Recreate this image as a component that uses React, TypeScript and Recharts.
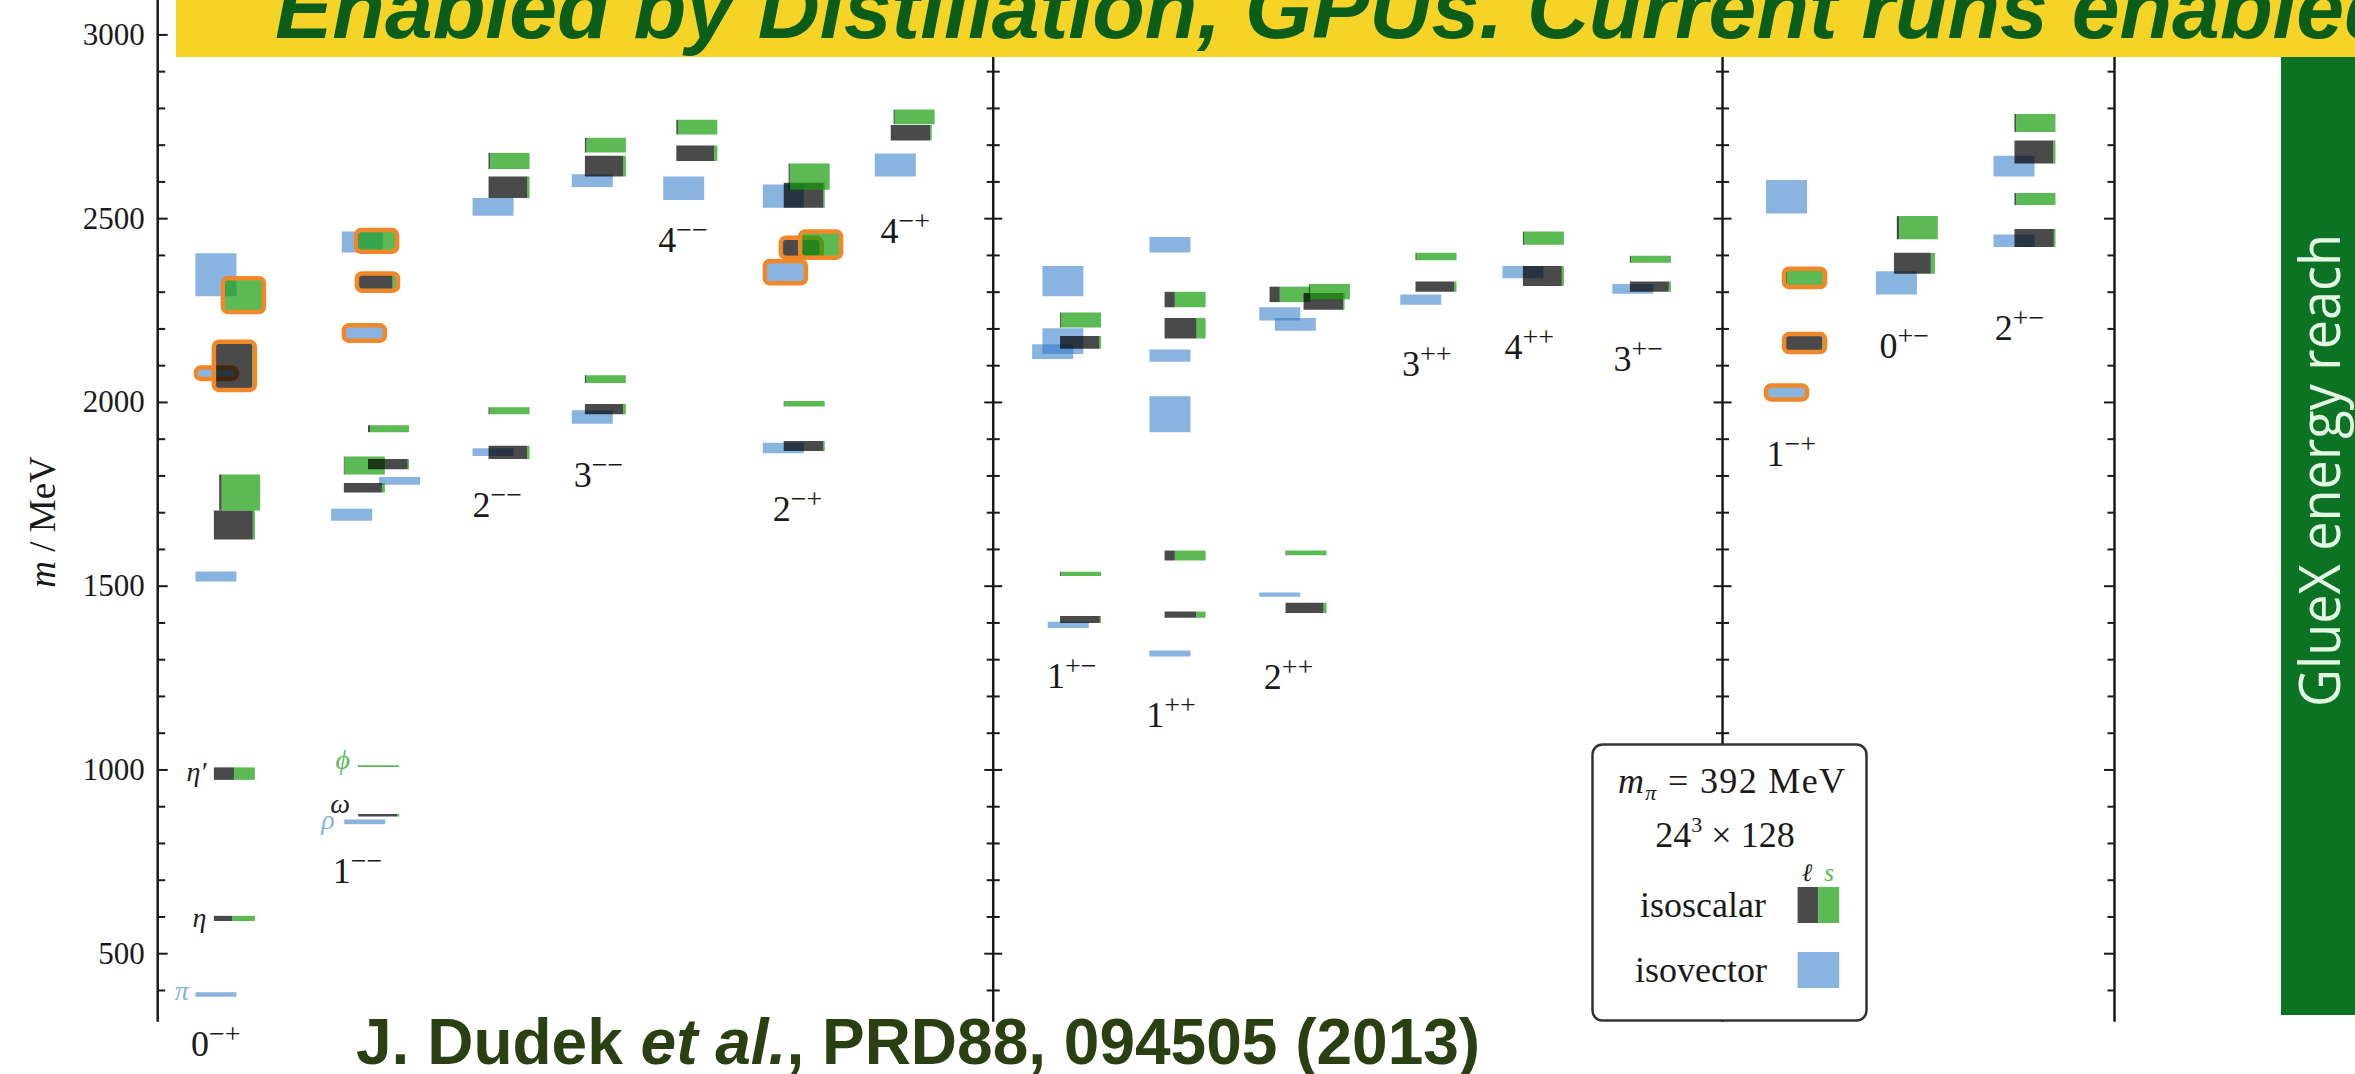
import React from "react";
import { ComposedChart, XAxis, YAxis, ReferenceArea, ReferenceLine, ReferenceDot, Scatter } from "recharts";

const W = 2355;
const H = 1074;

// x is in "slot" units (one box width); y is mass in MeV
// isovector: [x, low, high, hybrid]
const isovector: number[][] = [
  [0.92, 383, 395, 0], [0.92, 1513, 1540, 0], [0.93, 2064, 2095, 1], [0.92, 2289, 2406, 0],
  [4.55, 852, 865, 0], [4.23, 1678, 1711, 0], [5.4, 1776, 1797, 0], [4.54, 2168, 2210, 1], [4.49, 2408, 2465, 0],
  [7.68, 1854, 1875, 0], [7.68, 2508, 2556, 0],
  [10.1, 1942, 1979, 0], [10.1, 2586, 2621, 0],
  [12.33, 2551, 2615, 0],
  [14.76, 1862, 1890, 0], [14.81, 2324, 2385, 1], [14.76, 2530, 2593, 0],
  [17.49, 2615, 2677, 0],
  [21.71, 1386, 1403, 0], [21.33, 2118, 2158, 0], [21.58, 2132, 2202, 0], [21.58, 2289, 2371, 0],
  [24.19, 1309, 1325, 0], [24.19, 1919, 2017, 0], [24.19, 2111, 2144, 0], [24.19, 2408, 2450, 0],
  [26.87, 1471, 1483, 0], [26.87, 2223, 2259, 0], [27.25, 2195, 2230, 0],
  [30.31, 2266, 2294, 0],
  [32.8, 2338, 2371, 0],
  [35.48, 2296, 2322, 0],
  [39.23, 2008, 2046, 1], [39.23, 2514, 2605, 0],
  [41.91, 2294, 2357, 0],
  [44.78, 2423, 2457, 0], [44.78, 2615, 2671, 0],
];

// isoscalar: [x, low, high, light-quark fraction, hybrid]
const isoscalar: number[][] = [
  [1.37, 589, 603, 0.45, 0], [1.37, 973, 1007, 0.5, 0], [1.37, 1627, 1706, 0.95, 0], [1.5, 1706, 1804, 0.06, 0],
  [1.37, 2034, 2165, 0.93, 1], [1.59, 2246, 2338, 0.06, 1],
  [4.89, 873, 880, 0.95, 0], [4.89, 1008, 1013, 0.03, 0], [4.54, 1755, 1781, 0.93, 0], [4.54, 1804, 1853, 0.02, 0],
  [5.13, 1818, 1846, 0.97, 0], [5.13, 1919, 1938, 0.05, 0], [4.86, 2304, 2351, 0.87, 1], [4.84, 2410, 2469, 0.06, 1],
  [8.07, 1846, 1882, 0.94, 0], [8.07, 1968, 1987, 0.03, 0], [8.07, 2556, 2615, 0.95, 0], [8.07, 2635, 2679, 0.04, 0],
  [10.42, 1968, 1996, 0.93, 0], [10.42, 2053, 2074, 0.03, 0], [10.42, 2615, 2671, 0.93, 0], [10.42, 2680, 2720, 0.04, 0],
  [12.65, 2657, 2699, 0.92, 0], [12.65, 2729, 2769, 0.04, 0],
  [15.27, 1868, 1895, 0.97, 0], [15.27, 1989, 2004, 0.02, 0], [15.2, 2394, 2448, 0.95, 1], [15.67, 2394, 2465, 0.02, 1],
  [15.27, 2530, 2598, 0.97, 0], [15.39, 2579, 2650, 0.03, 0],
  [17.88, 2713, 2755, 0.96, 0], [17.95, 2757, 2797, 0.03, 0],
  [22.01, 1400, 1419, 0.97, 0], [22.01, 1528, 1539, 0.03, 0], [22.01, 2146, 2181, 0.95, 0], [22.01, 2204, 2245, 0.03, 0],
  [24.56, 1414, 1431, 0.77, 0], [24.56, 1570, 1597, 0.25, 0], [24.56, 2174, 2230, 0.78, 0], [24.56, 2259, 2301, 0.25, 0],
  [27.51, 1427, 1455, 0.93, 0], [27.51, 1584, 1597, 0.02, 0], [27.12, 2273, 2315, 0.25, 0], [27.95, 2252, 2298, 0.97, 0],
  [28.08, 2281, 2322, 0.02, 0],
  [30.68, 2301, 2329, 0.95, 0], [30.68, 2387, 2407, 0.03, 0],
  [33.3, 2317, 2371, 0.95, 0], [33.3, 2429, 2465, 0.03, 0],
  [35.91, 2301, 2329, 0.95, 0], [35.91, 2380, 2399, 0.03, 0],
  [39.67, 2137, 2186, 0.93, 1], [39.67, 2314, 2364, 0.07, 1],
  [42.35, 2350, 2407, 0.9, 0], [42.42, 2444, 2507, 0.06, 0],
  [45.29, 2423, 2472, 0.96, 0], [45.29, 2537, 2570, 0.04, 0], [45.29, 2650, 2713, 0.95, 0], [45.29, 2736, 2785, 0.04, 0],
];

// J^PC labels: [x, mass at baseline, J, PC]
const jpcLabels: [number, number, string, string][] = [
  [0.81, 222, "0", "−+"], [4.27, 693, "1", "−−"], [7.68, 1687, "2", "−−"], [10.15, 1771, "3", "−−"],
  [12.21, 2408, "4", "−−"], [15.0, 1677, "2", "−+"], [17.63, 2434, "4", "−+"], [21.69, 1224, "1", "+−"],
  [24.11, 1117, "1", "++"], [26.98, 1221, "2", "++"], [30.35, 2071, "3", "++"], [32.85, 2118, "4", "++"],
  [35.51, 2085, "3", "+−"], [39.24, 1827, "1", "−+"], [42.0, 2122, "0", "+−"], [44.81, 2169, "2", "+−"],
];

// ground-state names: [x (right end), mass at baseline, name, colour]
const particleLabels: [number, number, string, string][] = [
  [0.76, 374, "π", "#8ab4e0"], [1.19, 574, "η", "#222"], [1.19, 971, "η′", "#222"],
  [4.69, 1003, "ϕ", "#5cba54"], [4.69, 883, "ω", "#222"], [4.32, 840, "ρ", "#8ab4e0"],
];

const massTicks = [400, 500, 600, 700, 800, 900, 1000, 1100, 1200, 1300, 1400, 1500, 1600, 1700, 1800, 1900,
  2000, 2100, 2200, 2300, 2400, 2500, 2600, 2700, 2800, 2900, 3000];
const separators = [20.38, 38.17];

const BW = 1; // box width in slot units
const INK = "#1a1a1a";
const SERIF = "'Liberation Serif', 'Times New Roman', serif";
const SANS = "'Liberation Sans', Arial, sans-serif";
const BLUE = "#2a77c7";
const GREEN = "#169c0b";
const ORANGE = "#f0882a";

const outline = (p: any) => (
  <rect x={p.x} y={p.y} width={p.width} height={p.height} rx={5} fill="none" stroke={ORANGE} strokeWidth={4.5} />
);

function LeftTick(props: any) {
  const { x, y, payload } = props;
  const major = payload.value % 500 === 0;
  return (
    <g>
      <line x1={x} x2={x + (major ? 10 : 7.5)} y1={y} y2={y} stroke={INK} strokeWidth={2} />
      {major && (
        <text x={x - 13} y={y} dy={10} textAnchor="end" fontSize={31} fontFamily={SERIF} fill={INK}>
          {payload.value}
        </text>
      )}
    </g>
  );
}

function RightTick(props: any) {
  const { x, y, payload } = props;
  const major = payload.value % 500 === 0;
  return <line x1={x} x2={x - (major ? 10.5 : 7)} y1={y} y2={y} stroke={INK} strokeWidth={2} />;
}

const sepTick = (p: any) => {
  const half = p.payload.y % 500 === 0 ? 9 : 6.5;
  return <line x1={p.cx - half} x2={p.cx + half} y1={p.cy} y2={p.cy} stroke={INK} strokeWidth={2} />;
};

export default function App() {
  const sepTicks = separators.flatMap((s) => massTicks.map((m) => ({ x: s, y: m })));
  return (
    <div style={{ position: "absolute", left: 0, top: 0, width: W, height: H, overflow: "hidden", background: "#fff" }}>
      <ComposedChart width={W} height={H} margin={{ top: 0, right: 239.5, bottom: 52.3, left: 0 }}>
        <XAxis type="number" dataKey="x" domain={[0, 47.73]} hide allowDataOverflow />
        <YAxis
          type="number"
          dataKey="y"
          width={157.7}
          domain={[315, 3095]}
          allowDataOverflow
          ticks={massTicks}
          interval={0}
          tickSize={0}
          tickMargin={0}
          tickLine={false}
          axisLine={{ stroke: INK, strokeWidth: 2.5 }}
          tick={(p: any) => <LeftTick {...p} />}
          label={{
            content: (p: any) => (
              <text
                transform={`translate(${(p.viewBox?.x ?? 0) + 55} 522) rotate(-90)`}
                textAnchor="middle"
                fontSize={37}
                fontFamily={SERIF}
                fill={INK}
              >
                <tspan fontStyle="italic">m</tspan> / MeV
              </text>
            ),
          }}
        />
        <YAxis
          yAxisId="r"
          orientation="right"
          type="number"
          width={1}
          domain={[315, 3095]}
          allowDataOverflow
          ticks={massTicks}
          interval={0}
          tickSize={0}
          tickMargin={0}
          tickLine={false}
          axisLine={{ stroke: INK, strokeWidth: 2.5 }}
          tick={(p: any) => <RightTick {...p} />}
        />

        {separators.map((s) => (
          <ReferenceLine key={"sep" + s} x={s} stroke={INK} strokeWidth={2.5} />
        ))}

        {isovector.map(([x, lo, hi], i) => (
          <ReferenceArea key={"v" + i} x1={x} x2={x + BW} y1={lo} y2={hi} fill={BLUE} fillOpacity={0.55} stroke="none" />
        ))}
        {isovector
          .filter((d) => d[3] === 1)
          .map(([x, lo, hi], i) => (
            <ReferenceArea key={"hv" + i} x1={x} x2={x + BW} y1={lo} y2={hi} shape={outline} />
          ))}
        {isoscalar.flatMap(([x, lo, hi, f, hyb], i) => {
          const parts = [
            <ReferenceArea key={"sl" + i} x1={x} x2={x + BW * f} y1={lo} y2={hi} fill="#000" fillOpacity={0.71} stroke="none" />,
            <ReferenceArea key={"ss" + i} x1={x + BW * f} x2={x + BW} y1={lo} y2={hi} fill={GREEN} fillOpacity={0.7} stroke="none" />,
          ];
          if (hyb === 1) {
            parts.push(<ReferenceArea key={"hs" + i} x1={x} x2={x + BW} y1={lo} y2={hi} shape={outline} />);
          }
          return parts;
        })}

        <Scatter data={sepTicks} dataKey="y" isAnimationActive={false} shape={sepTick} />

        {jpcLabels.map(([x, m, j, pc]) => (
          <ReferenceDot
            key={"jpc" + x}
            x={x}
            y={m}
            r={0}
            ifOverflow="visible"
            shape={(p: any) => (
              <text x={p.cx} y={p.cy} fontSize={36} fontFamily={SERIF} fill={INK}>
                {j}
                <tspan dy={-13} fontSize={28}>{pc}</tspan>
              </text>
            )}
          />
        ))}
        {particleLabels.map(([x, m, name, color]) => (
          <ReferenceDot
            key={"pl" + name}
            x={x}
            y={m}
            r={0}
            ifOverflow="visible"
            shape={(p: any) => (
              <text x={p.cx} y={p.cy} textAnchor="end" fontSize={28} fontStyle="italic" fontFamily={SERIF} fill={color}>
                {name}
              </text>
            )}
          />
        ))}
      </ComposedChart>

      <svg width={W} height={H} style={{ position: "absolute", left: 0, top: 0, pointerEvents: "none" }}>
        <rect x={176} y={0} width={W - 176} height={57} fill="#f5d327" />
        <text x={275} y={38} fontFamily={SANS} fontWeight="bold" fontStyle="italic" fontSize={86} fill="#0b5e1a">
          Enabled by Distillation, GPUs. Current runs enabled by
        </text>

        <rect x={2281} y={57} width={W - 2281} height={958} fill="#0b7323" />
        <text
          transform="translate(2340 470.5) rotate(-90)"
          textAnchor="middle"
          fontFamily="'Open Sans', sans-serif"
          fontSize={56}
          textLength={473}
          lengthAdjust="spacingAndGlyphs"
          fill="#e4f7e4"
        >
          GlueX energy reach
        </text>

        <rect x={1592.5} y={744.5} width={274} height={276} rx={10} fill="#fff" stroke="#333" strokeWidth={2.5} />
        <text x={1618} y={793} fontSize={36} fontFamily={SERIF} fill={INK} textLength={227} lengthAdjust="spacing">
          <tspan fontStyle="italic">m</tspan>
          <tspan fontStyle="italic" fontSize={22} dy={7}>π</tspan>
          <tspan dy={-7}> = 392 MeV</tspan>
        </text>
        <text x={1725} y={847} textAnchor="middle" fontSize={36} fontFamily={SERIF} fill={INK}>
          24<tspan fontSize={22} dy={-15}>3</tspan>
          <tspan dy={15}> × 128</tspan>
        </text>
        <text x={1640} y={917} fontSize={36} fontFamily={SERIF} fill={INK}>isoscalar</text>
        <text x={1807} y={881} textAnchor="middle" fontSize={25} fontStyle="italic" fontFamily={SERIF} fill={INK}>ℓ</text>
        <text x={1829} y={881} textAnchor="middle" fontSize={25} fontStyle="italic" fontFamily={SERIF} fill="#5cba54">s</text>
        <rect x={1797.6} y={887} width={20.8} height={36} fill="#4a4a4a" />
        <rect x={1818.4} y={887} width={20.8} height={36} fill="#5cba54" />
        <text x={1635} y={982} fontSize={36} fontFamily={SERIF} fill={INK}>isovector</text>
        <rect x={1797.6} y={952} width={41.6} height={36} fill="#8ab4e0" />

        <text x={356} y={1064} fontFamily={SANS} fontWeight="bold" fontSize={64} fill="#2a4012">
          J. Dudek <tspan fontStyle="italic">et al.</tspan>, PRD88, 094505 (2013)
        </text>
      </svg>
    </div>
  );
}
